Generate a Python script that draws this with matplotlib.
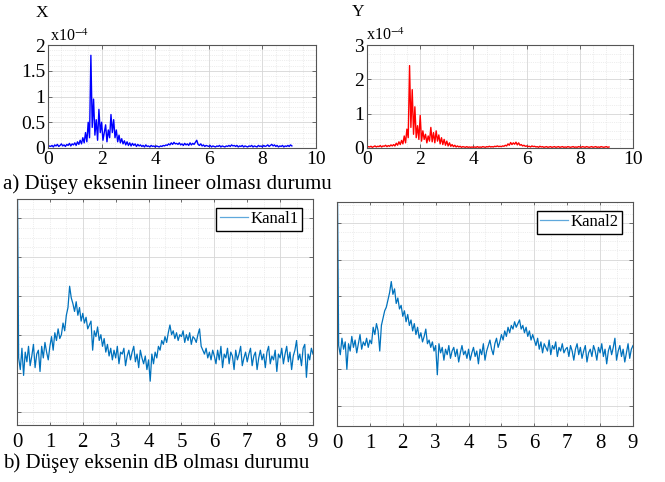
import matplotlib
matplotlib.use("Agg")
import matplotlib.pyplot as plt
import numpy as np

plt.rcParams['font.family'] = ['Liberation Serif', 'DejaVu Serif']
plt.rcParams['mathtext.fontset'] = 'stix'

# --- top: linear amplitude (x10^-4), frequency 0..9.1 in steps of 0.05
f_lin = np.round(np.arange(0, 9.1001, 0.05), 2)
amp_x = [0.02, 0.04, 0.03, 0.05, 0.02, 0.06, 0.04, 0.07, 0.03, 0.05, 0.08, 0.04, 0.06, 0.03, 0.07, 0.05, 0.09, 0.04, 0.08, 0.06,
         0.10, 0.05, 0.12, 0.07, 0.15, 0.08, 0.20, 0.10, 0.30, 0.12, 0.50, 0.20, 1.80, 0.40, 0.95, 0.25, 0.55, 0.15, 0.75, 0.30,
         0.50, 0.15, 0.30, 0.45, 0.12, 0.35, 0.20, 0.65, 0.30, 0.55, 0.20, 0.35, 0.12, 0.25, 0.10, 0.18, 0.08, 0.14, 0.06, 0.12,
         0.05, 0.10, 0.04, 0.09, 0.05, 0.08, 0.03, 0.07, 0.04, 0.06, 0.03, 0.05, 0.02, 0.06, 0.03, 0.04, 0.02, 0.05, 0.03, 0.04,
         0.02, 0.04, 0.03, 0.02, 0.04, 0.03, 0.05, 0.04, 0.06, 0.05, 0.08, 0.06, 0.10, 0.07, 0.11, 0.08, 0.09, 0.07, 0.10, 0.06,
         0.08, 0.05, 0.09, 0.06, 0.08, 0.05, 0.10, 0.06, 0.09, 0.07, 0.11, 0.15, 0.07, 0.05, 0.08, 0.04, 0.06, 0.03, 0.05, 0.04,
         0.03, 0.05, 0.02, 0.04, 0.03, 0.02, 0.04, 0.03, 0.05, 0.02, 0.04, 0.03, 0.02, 0.04, 0.03, 0.05, 0.03, 0.06, 0.04, 0.05,
         0.03, 0.05, 0.02, 0.04, 0.03, 0.05, 0.02, 0.04, 0.03, 0.02, 0.04, 0.03, 0.05, 0.02, 0.04, 0.03, 0.02, 0.05, 0.03, 0.04,
         0.02, 0.05, 0.03, 0.04, 0.06, 0.03, 0.05, 0.07, 0.04, 0.06, 0.03, 0.05, 0.02, 0.04, 0.03, 0.05, 0.02, 0.04, 0.03, 0.05,
         0.03, 0.06, 0.04]
amp_y = [0.02, 0.04, 0.03, 0.05, 0.02, 0.04, 0.06, 0.03, 0.05, 0.04, 0.07, 0.03, 0.06, 0.05, 0.08, 0.04, 0.07, 0.05, 0.09, 0.06,
         0.10, 0.06, 0.14, 0.08, 0.18, 0.10, 0.22, 0.12, 0.35, 0.15, 0.55, 0.30, 2.40, 0.60, 1.70, 0.40, 1.20, 0.30, 0.65, 0.25,
         0.95, 0.20, 0.50, 0.25, 0.40, 0.15, 0.35, 0.20, 0.60, 0.18, 0.45, 0.15, 0.50, 0.20, 0.38, 0.12, 0.30, 0.10, 0.25, 0.08,
         0.20, 0.06, 0.15, 0.05, 0.10, 0.04, 0.08, 0.03, 0.06, 0.03, 0.05, 0.02, 0.04, 0.03, 0.02, 0.04, 0.02, 0.03, 0.02, 0.03,
         0.02, 0.03, 0.02, 0.04, 0.02, 0.03, 0.02, 0.04, 0.03, 0.02, 0.04, 0.03, 0.05, 0.03, 0.04, 0.03, 0.05, 0.04, 0.06, 0.04,
         0.05, 0.04, 0.06, 0.05, 0.08, 0.06, 0.12, 0.08, 0.16, 0.10, 0.15, 0.11, 0.17, 0.09, 0.15, 0.08, 0.10, 0.06, 0.08, 0.05,
         0.06, 0.04, 0.05, 0.03, 0.06, 0.04, 0.05, 0.03, 0.04, 0.02, 0.05, 0.03, 0.04, 0.02, 0.03, 0.04, 0.02, 0.03, 0.04, 0.02,
         0.03, 0.04, 0.02, 0.03, 0.04, 0.02, 0.03, 0.04, 0.02, 0.03, 0.02, 0.04, 0.03, 0.02, 0.03, 0.04, 0.02, 0.03, 0.02, 0.04,
         0.03, 0.02, 0.04, 0.03, 0.02, 0.04, 0.03, 0.02, 0.03, 0.04, 0.02, 0.03, 0.04, 0.02, 0.03, 0.02, 0.04, 0.03, 0.02, 0.03,
         0.04, 0.02, 0.03]

# --- bottom: dB spectra, frequency 0..9 in steps of 0.05
f_db = np.round(np.arange(0, 9.0001, 0.05), 2)
kanal1 = [-30, -152, -158, -147, -161, -149, -154, -146, -156, -151, -145, -157, -150, -148, -159, -146, -152, -144, -149, -153,
          -146, -141, -148, -139, -143, -137, -142, -140, -134, -138, -130, -126, -115, -121, -124, -128, -123, -130, -126, -133,
          -129, -134, -131, -137, -135, -133, -148, -138, -141, -136, -143, -140, -146, -142, -149, -145, -151, -147, -153, -148,
          -152, -146, -155, -149, -150, -147, -156, -151, -148, -153, -149, -146, -154, -150, -157, -148, -152, -155, -151, -158,
          -153, -164, -150, -155, -149, -152, -146, -148, -143, -145, -141, -144, -139, -135, -140, -138, -142, -139, -143, -140,
          -141, -138, -144, -140, -143, -139, -145, -141, -142, -144, -140, -137, -146, -148, -150, -147, -152, -149, -153, -148,
          -151, -155, -148, -153, -146, -157, -150, -152, -147, -155, -149, -151, -158, -148, -153, -150, -146, -156, -152, -149,
          -154, -150, -147, -156, -151, -149, -158, -152, -148, -153, -150, -157, -149, -146, -155, -151, -153, -148, -159, -150,
          -152, -147, -155, -150, -146, -154, -149, -158, -151, -148, -143, -153, -150, -156, -147, -145, -162, -150, -153, -147,
          -150]
kanal2 = [-30, -147, -152, -143, -149, -145, -160, -146, -150, -142, -148, -144, -151, -146, -141, -149, -145, -147, -143, -148,
          -144, -146, -137, -141, -135, -139, -150, -136, -132, -128, -126, -122, -118, -112, -119, -116, -124, -121, -127, -125,
          -131, -128, -134, -130, -136, -133, -139, -135, -141, -137, -143, -140, -145, -142, -138, -146, -144, -148, -145, -150,
          -147, -163, -146, -151, -148, -155, -149, -152, -147, -154, -150, -148, -153, -149, -156, -151, -147, -152, -150, -154,
          -149, -155, -151, -148, -153, -150, -157, -149, -152, -146, -155, -150, -147, -144, -149, -152, -146, -143, -148, -145,
          -141, -144, -139, -142, -137, -140, -136, -138, -134, -137, -135, -133, -138, -136, -140, -137, -142, -139, -144, -141,
          -144, -147, -143, -149, -145, -151, -146, -148, -150, -144, -152, -147, -149, -145, -153, -148, -150, -146, -151, -149,
          -148, -153, -147, -150, -155, -149, -146, -152, -148, -154, -150, -147, -156, -151, -149, -153, -147, -150, -155, -148,
          -151, -146, -153, -149, -157, -150, -147, -152, -148, -143, -155, -150, -147, -153, -149, -156, -151, -146, -154, -149,
          -147]

W, H = 665, 482
fig = plt.figure(figsize=(W / 100, H / 100), dpi=100)


def px_axes(x0, y0, x1, y1):
    return fig.add_axes([x0 / W, 1 - y1 / H, (x1 - x0) / W, (y1 - y0) / H])


def style(ax):
    for s in ax.spines.values():
        s.set_color('#555555')
        s.set_linewidth(0.8)
    ax.tick_params(which='both', direction='in', top=True, right=True, colors='#555555',
                   labelcolor='black', width=0.6)
    ax.tick_params(which='minor', length=0)
    ax.grid(which='major', color='#d6d6d6', lw=0.6, ls='-')
    ax.grid(which='minor', color='#dedede', lw=0.5, ls=':')
    ax.set_axisbelow(True)


# top left (X)
ax1 = px_axes(48, 45, 316, 148)
ax1.plot(f_lin, amp_x, color='#0000ff', lw=1.0)
ax1.set_xlim(0, 10)
ax1.set_ylim(0, 2)
ax1.set_xticks(np.arange(0, 11, 2))
ax1.set_xticks(np.arange(0, 10.01, 0.5), minor=True)
ax1.set_yticks([0, 0.5, 1, 1.5, 2], ['0', '0.5', '1', '1.5', '2'])
ax1.set_yticks(np.arange(0, 2.01, 0.1), minor=True)
style(ax1)
ax1.tick_params(labelsize=14, length=3, pad=2)

# top right (Y)
ax2 = px_axes(367, 45, 633, 148)
ax2.plot(f_lin, amp_y, color='#ff0000', lw=1.0)
ax2.set_xlim(0, 10)
ax2.set_ylim(0, 3)
ax2.set_xticks(np.arange(0, 11, 2))
ax2.set_xticks(np.arange(0, 10.01, 0.5), minor=True)
ax2.set_yticks([0, 1, 2, 3])
ax2.set_yticks(np.arange(0, 3.01, 0.25), minor=True)
style(ax2)
ax2.tick_params(labelsize=14, length=3, pad=2)

fig.text(42 / W, 1 - 13 / H, 'X', fontsize=12.5, ha='center', va='center')
fig.text(50 / W, 1 - 37 / H, r'x10$^{-4}$', fontsize=11.5, ha='left', va='center')
fig.text(358 / W, 1 - 12 / H, 'Y', fontsize=12.5, ha='center', va='center')
fig.text(366 / W, 1 - 36 / H, r'x10$^{-4}$', fontsize=11.5, ha='left', va='center')

fig.text(3 / W, 1 - 184 / H, 'a) Düşey eksenin lineer olması durumu', fontsize=15,
         ha='left', va='center')
fig.text(3 / W, 1 - 463 / H, 'b) Düşey eksenin dB olması durumu', fontsize=15,
         ha='left', va='center')

# bottom panels (dB)
panels = [((17, 199, 313, 425), kanal1, 'Kanal1', (-186.6, -72)),
          ((337, 202, 633, 426), kanal2, 'Kanal2', (-191, -68.5))]
for (x0, y0, x1, y1), vals, name, ylim in panels:
    ax = px_axes(x0, y0, x1, y1)
    ax.plot(f_db, vals, color='#0072bd', lw=0.9, label=name)
    ax.set_xlim(0, 9)
    ax.set_ylim(*ylim)
    ax.set_xticks(range(10))
    ax.set_xticks(np.arange(0, 9.01, 0.5), minor=True)
    ax.set_yticks(np.arange(-180, -79, 20))
    ax.set_yticks(np.arange(-185, -69, 5), minor=True)
    ax.set_yticklabels([])
    style(ax)
    ax.grid(which='major', axis='x', color='#dedede', lw=0.5, ls=':')
    for g in (2, 4, 6, 8):
        ax.axvline(g, color='#d6d6d6', lw=0.6, zorder=0.5)
    ax.tick_params(labelsize=15, length=3, pad=3)
    ax.tick_params(axis='x', length=2, pad=6)
    w, h = x1 - x0, y1 - y0
    leg = ax.legend(loc='upper right', bbox_to_anchor=(1 - 11 / w, 1 - 9 / h), borderaxespad=0,
                    fontsize=12, fancybox=False, edgecolor='black', framealpha=1,
                    handlelength=1.7, handletextpad=0.15, borderpad=0.2)
    leg.get_lines()[0].set_color('#5fa8dc')

fig.savefig('out.png', dpi=100)
